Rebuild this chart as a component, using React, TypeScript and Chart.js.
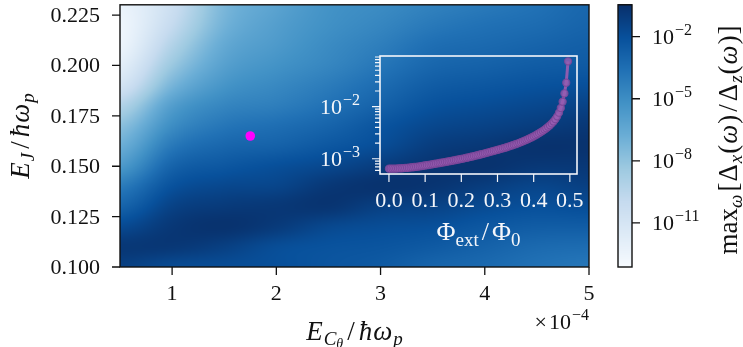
import { useEffect, useRef } from "react";
import { Chart, registerables } from "chart.js";

Chart.register(...registerables);

// ---- main map: charging energy (units of 1e-4 ħω_p) vs Josephson energy ----
const ecGrid = [0.5, 1.0, 1.5, 2.0, 2.5, 3.0, 3.5, 4.0, 4.5, 5.0];
const ejGrid = [0.1, 0.11, 0.12, 0.13, 0.14, 0.15, 0.16, 0.17, 0.18, 0.19, 0.2, 0.21, 0.22, 0.23];
// log10 of max_ω[Δx(ω)/Δz(ω)], one row per E_J value, one column per E_Cθ value
const ratioLog10 = [
  [-1.22, -1.73, -1.85, -1.98, -2.23, -2.49, -2.99, -3.25, -3.63, -3.88],
  [-0.84, -0.84, -1.22, -1.85, -2.11, -2.23, -2.49, -2.87, -3.25, -3.37],
  [-1.73, -0.84, -0.59, -0.97, -1.6, -1.85, -1.98, -2.36, -2.61, -2.61],
  [-2.99, -1.35, -0.97, -0.84, -0.71, -1.22, -1.35, -1.73, -1.98, -1.85],
  [-4.13, -2.11, -1.6, -1.47, -0.84, -0.59, -0.71, -1.09, -1.47, -1.22],
  [-5.66, -2.99, -2.36, -1.98, -1.6, -1.09, -0.71, -0.59, -0.84, -0.84],
  [-6.8, -4.01, -3.12, -2.87, -2.36, -1.85, -1.09, -0.84, -0.59, -0.59],
  [-7.81, -5.02, -3.88, -3.5, -2.99, -2.23, -1.6, -1.35, -1.09, -0.84],
  [-9.2, -5.91, -4.64, -4.26, -3.63, -2.87, -2.11, -1.85, -1.6, -1.35],
  [-10.85, -7.2, -5.4, -4.77, -4.13, -3.37, -2.61, -2.36, -2.11, -1.98],
  [-11.86, -8.3, -6.04, -5.27, -4.64, -3.88, -3.12, -2.87, -2.61, -2.49],
  [-12.5, -9.2, -6.54, -5.66, -4.89, -4.26, -3.5, -3.25, -2.99, -2.74],
  [-12.6, -9.96, -7.05, -5.91, -5.15, -4.64, -4.01, -3.63, -3.37, -2.99],
  [-12.37, -10.34, -7.3, -6.16, -5.27, -4.89, -4.39, -4.01, -3.63, -3.12],
];
const ecRange = [0.5, 5.0];
const ejRange = [0.1, 0.2301];
const ecTicks = [1, 2, 3, 4, 5];
const ejTicks = [0.1, 0.125, 0.15, 0.175, 0.2, 0.225];
const operatingPoint = { ec: 1.75, ej: 0.165 };

// colour bar (log10 limits and labelled decades)
const cbRangeExp = [-13.13, -0.46];
const cbTickExp = [-2, -5, -8, -11];

// ---- inset: ratio at the operating point vs external flux ----
const fluxValues = [
  0.0, 0.005, 0.01, 0.015, 0.02, 0.025, 0.03, 0.035, 0.04, 0.045,
  0.05, 0.055, 0.06, 0.065, 0.07, 0.075, 0.08, 0.085, 0.09, 0.095,
  0.1, 0.105, 0.11, 0.115, 0.12, 0.125, 0.13, 0.135, 0.14, 0.145,
  0.15, 0.155, 0.16, 0.165, 0.17, 0.175, 0.18, 0.185, 0.19, 0.195,
  0.2, 0.205, 0.21, 0.215, 0.22, 0.225, 0.23, 0.235, 0.24, 0.245,
  0.25, 0.255, 0.26, 0.265, 0.27, 0.275, 0.28, 0.285, 0.29, 0.295,
  0.3, 0.305, 0.31, 0.315, 0.32, 0.325, 0.33, 0.335, 0.34, 0.345,
  0.35, 0.355, 0.36, 0.365, 0.37, 0.375, 0.38, 0.385, 0.39, 0.395,
  0.4, 0.405, 0.41, 0.415, 0.42, 0.425, 0.43, 0.435, 0.44, 0.445,
  0.45, 0.455, 0.46, 0.465, 0.47, 0.475, 0.48, 0.485, 0.49, 0.495,
];
const fluxRatioLog10 = [
  -3.19, -3.19, -3.189, -3.189, -3.188, -3.186, -3.185, -3.183, -3.18, -3.177,
  -3.174, -3.171, -3.167, -3.163, -3.159, -3.155, -3.15, -3.145, -3.14, -3.135,
  -3.129, -3.124, -3.118, -3.112, -3.106, -3.1, -3.094, -3.088, -3.082, -3.076,
  -3.07, -3.064, -3.058, -3.051, -3.045, -3.038, -3.031, -3.024, -3.017, -3.01,
  -3.003, -2.996, -2.988, -2.981, -2.973, -2.965, -2.957, -2.949, -2.94, -2.932,
  -2.923, -2.914, -2.905, -2.896, -2.887, -2.877, -2.868, -2.859, -2.849, -2.84,
  -2.83, -2.82, -2.81, -2.8, -2.79, -2.779, -2.768, -2.757, -2.745, -2.733,
  -2.721, -2.708, -2.695, -2.681, -2.667, -2.652, -2.637, -2.621, -2.604, -2.587,
  -2.569, -2.55, -2.53, -2.509, -2.487, -2.464, -2.44, -2.414, -2.386, -2.356,
  -2.322, -2.284, -2.24, -2.186, -2.115, -2.025, -1.905, -1.745, -1.54, -1.13,
];
const fluxRange = [-0.02475, 0.51975];
const fluxRatioRangeExp = [-3.293, -1.027];
const fluxTicks = [0, 0.1, 0.2, 0.3, 0.4, 0.5];
const fluxMajorExp = [-3, -2];
const fluxMinor = [6e-4, 7e-4, 8e-4, 9e-4, 2e-3, 3e-3, 4e-3, 5e-3, 6e-3, 7e-3, 8e-3, 9e-3, 2e-2, 3e-2, 4e-2, 5e-2, 6e-2, 7e-2, 8e-2, 9e-2];

// ---- drawing helpers ----
const FAMILY = '"Liberation Serif", "DejaVu Serif", serif';
type Run = { t: string; s: number; i?: boolean; dy?: number; gap?: number };

function fontOf(r: Run) {
  return `${r.i ? "italic " : ""}${r.s}px ${FAMILY}`;
}
function runsWidth(ctx: CanvasRenderingContext2D, runs: Run[]) {
  let w = 0;
  for (const r of runs) {
    ctx.font = fontOf(r);
    w += ctx.measureText(r.t).width + (r.gap || 0);
  }
  return w;
}
function drawRuns(
  ctx: CanvasRenderingContext2D,
  runs: Run[],
  x: number,
  y: number,
  align: "left" | "center" | "right",
  color: string
) {
  const w = runsWidth(ctx, runs);
  let cx = align === "center" ? x - w / 2 : align === "right" ? x - w : x;
  ctx.fillStyle = color;
  ctx.textAlign = "left";
  ctx.textBaseline = "alphabetic";
  for (const r of runs) {
    ctx.font = fontOf(r);
    ctx.fillText(r.t, cx, y + (r.dy || 0));
    cx += ctx.measureText(r.t).width + (r.gap || 0);
  }
}
function drawRunsRotated(
  ctx: CanvasRenderingContext2D,
  runs: Run[],
  baselineX: number,
  centerY: number,
  color: string
) {
  ctx.save();
  ctx.translate(baselineX, centerY);
  ctx.rotate(-Math.PI / 2);
  drawRuns(ctx, runs, 0, 0, "center", color);
  ctx.restore();
}
function powerRuns(exp: number, size: number): Run[] {
  return [
    { t: "10", s: size, gap: 1 },
    { t: "\u2212" + Math.abs(exp), s: Math.round(size * 0.72), dy: -size * 0.42 },
  ];
}

// matplotlib "Blues"
const BLUES = [
  [247, 251, 255], [222, 235, 247], [198, 219, 239], [158, 202, 225], [107, 174, 214],
  [66, 146, 198], [33, 113, 181], [8, 81, 156], [8, 48, 107],
];
function blues(t: number) {
  const c = Math.min(1, Math.max(0, t)) * (BLUES.length - 1);
  const i = Math.min(BLUES.length - 2, Math.floor(c));
  const f = c - i;
  const a = BLUES[i], b = BLUES[i + 1];
  return [a[0] + (b[0] - a[0]) * f, a[1] + (b[1] - a[1]) * f, a[2] + (b[2] - a[2]) * f];
}

function locate(grid: number[], v: number) {
  const n = grid.length - 1;
  if (v <= grid[0]) return [0, 0];
  if (v >= grid[n]) return [n - 1, 1];
  let i = 0;
  while (grid[i + 1] < v) i++;
  return [i, (v - grid[i]) / (grid[i + 1] - grid[i])];
}
function cubic(p0: number, p1: number, p2: number, p3: number, t: number) {
  return p1 + 0.5 * t * (p2 - p0 + t * (2 * p0 - 5 * p1 + 4 * p2 - p3 + t * (3 * (p1 - p2) + p3 - p0)));
}
// smooth (Catmull-Rom) shading between the grid nodes
function sampleRatio(ec: number, ej: number) {
  const [ix, fx] = locate(ecGrid, ec);
  const [iy, fy] = locate(ejGrid, ej);
  const nx = ecGrid.length - 1, ny = ejGrid.length - 1;
  const cx = (k: number) => Math.min(nx, Math.max(0, k));
  const cy = (k: number) => Math.min(ny, Math.max(0, k));
  const rows: number[] = [];
  for (let j = -1; j <= 2; j++) {
    const r = ratioLog10[cy(iy + j)];
    rows.push(cubic(r[cx(ix - 1)], r[cx(ix)], r[cx(ix + 1)], r[cx(ix + 2)], fx));
  }
  return cubic(rows[0], rows[1], rows[2], rows[3], fy);
}

const TICK = 8;
const INK = "#111";
const TICK_FONT = 22;

const heatmapPlugin = {
  id: "heatmap",
  beforeDatasetsDraw(chart: any) {
    const { ctx, chartArea: a, scales } = chart;
    const xs = scales.x, ys = scales.y, cb = scales.cb;
    const w = Math.round(a.right - a.left), h = Math.round(a.bottom - a.top);
    const off = document.createElement("canvas");
    off.width = w;
    off.height = h;
    const octx = off.getContext("2d")!;
    const img = octx.createImageData(w, h);
    const span = cb.bottom - cb.top;
    for (let py = 0; py < h; py++) {
      const ej = ys.getValueForPixel(a.top + py + 0.5);
      for (let px = 0; px < w; px++) {
        const ec = xs.getValueForPixel(a.left + px + 0.5);
        const v = sampleRatio(ec, ej);
        const t = (cb.bottom - cb.getPixelForValue(Math.pow(10, v))) / span;
        const c = blues(t);
        const k = (py * w + px) * 4;
        img.data[k] = c[0];
        img.data[k + 1] = c[1];
        img.data[k + 2] = c[2];
        img.data[k + 3] = 255;
      }
    }
    octx.putImageData(img, 0, 0);
    ctx.drawImage(off, a.left, a.top);
  },
};

const CB_LEFT = 618, CB_RIGHT = 632;

const mainAxesPlugin = {
  id: "mainAxes",
  afterDraw(chart: any) {
    const { ctx, chartArea: a, scales } = chart;
    const xs = scales.x, ys = scales.y, cb = scales.cb;
    ctx.save();

    // colour bar
    const span = cb.bottom - cb.top;
    for (let py = Math.floor(cb.top); py < Math.ceil(cb.bottom); py++) {
      const c = blues((cb.bottom - (py + 0.5)) / span);
      ctx.fillStyle = `rgb(${c[0] | 0},${c[1] | 0},${c[2] | 0})`;
      ctx.fillRect(CB_LEFT, py, CB_RIGHT - CB_LEFT, 1);
    }

    ctx.strokeStyle = INK;
    ctx.lineWidth = 1.4;
    ctx.strokeRect(a.left, a.top, a.right - a.left, a.bottom - a.top);
    ctx.strokeRect(CB_LEFT, cb.top, CB_RIGHT - CB_LEFT, cb.bottom - cb.top);

    ctx.lineWidth = 1.3;
    ctx.beginPath();
    for (const v of ecTicks) {
      const px = xs.getPixelForValue(v);
      ctx.moveTo(px, a.bottom);
      ctx.lineTo(px, a.bottom + TICK);
    }
    for (const v of ejTicks) {
      const py = ys.getPixelForValue(v);
      ctx.moveTo(a.left - TICK, py);
      ctx.lineTo(a.left, py);
    }
    for (const e of cbTickExp) {
      const py = cb.getPixelForValue(Math.pow(10, e));
      ctx.moveTo(CB_RIGHT, py);
      ctx.lineTo(CB_RIGHT + TICK, py);
    }
    ctx.stroke();

    for (const v of ecTicks) {
      drawRuns(ctx, [{ t: String(v), s: TICK_FONT }], xs.getPixelForValue(v), a.bottom + 33, "center", INK);
    }
    for (const v of ejTicks) {
      drawRuns(ctx, [{ t: v.toFixed(3), s: TICK_FONT }], a.left - 20, ys.getPixelForValue(v) + 7, "right", INK);
    }
    for (const e of cbTickExp) {
      drawRuns(ctx, powerRuns(e, TICK_FONT), CB_RIGHT + 20, cb.getPixelForValue(Math.pow(10, e)) + 7.5, "left", INK);
    }

    // axis titles
    const L = 27, S = 19, SS = 14;
    drawRuns(
      ctx,
      [
        { t: "E", s: L, i: true, gap: 1 },
        { t: "C", s: S, i: true, dy: 5 },
        { t: "\u03b8", s: SS, i: true, dy: 8, gap: 4 },
        { t: "/", s: L, gap: 4 },
        { t: "\u0127", s: L, i: true, gap: 1 },
        { t: "\u03c9", s: L, i: true, gap: 1 },
        { t: "p", s: S, i: true, dy: 5 },
      ],
      (a.left + a.right) / 2,
      340,
      "center",
      INK
    );
    drawRuns(ctx, [{ t: "\u00d7", s: 22, gap: 2 }, { t: "10", s: 22, gap: 1 }, { t: "\u22124", s: 16, dy: -9 }], a.right, 329, "right", INK);

    drawRunsRotated(
      ctx,
      [
        { t: "E", s: L, i: true, gap: 1 },
        { t: "J", s: S, i: true, dy: 5, gap: 4 },
        { t: "/", s: L, gap: 4 },
        { t: "\u0127", s: L, i: true, gap: 1 },
        { t: "\u03c9", s: L, i: true, gap: 1 },
        { t: "p", s: S, i: true, dy: 5 },
      ],
      29,
      (a.top + a.bottom) / 2,
      INK
    );

    const C = 27, CS = 19;
    drawRunsRotated(
      ctx,
      [
        { t: "max", s: C },
        { t: "\u03c9", s: CS, i: true, dy: 5, gap: 3 },
        { t: "[", s: C, gap: 1 },
        { t: "\u0394", s: C, gap: 1 },
        { t: "x", s: CS, i: true, dy: 5, gap: 1 },
        { t: "(", s: C, gap: 1 },
        { t: "\u03c9", s: C, i: true, gap: 1 },
        { t: ")", s: C, gap: 3 },
        { t: "/", s: C, gap: 3 },
        { t: "\u0394", s: C, gap: 1 },
        { t: "z", s: CS, i: true, dy: 5, gap: 1 },
        { t: "(", s: C, gap: 1 },
        { t: "\u03c9", s: C, i: true, gap: 1 },
        { t: ")", s: C, gap: 1 },
        { t: "]", s: C },
      ],
      737,
      (cb.top + cb.bottom) / 2 + 4,
      INK
    );
    ctx.restore();
  },
};

const WHITE = "#f4f6fa";

const insetAxesPlugin = {
  id: "insetAxes",
  afterDraw(chart: any) {
    const { ctx, chartArea: a, scales } = chart;
    const xs = scales.x, ys = scales.y;
    ctx.save();
    ctx.strokeStyle = WHITE;
    ctx.lineWidth = 1.6;
    ctx.strokeRect(a.left, a.top, a.right - a.left, a.bottom - a.top);
    ctx.lineWidth = 1.2;
    ctx.beginPath();
    for (const v of fluxTicks) {
      const px = xs.getPixelForValue(v);
      ctx.moveTo(px, a.bottom);
      ctx.lineTo(px, a.bottom + TICK);
    }
    for (const e of fluxMajorExp) {
      const py = ys.getPixelForValue(Math.pow(10, e));
      ctx.moveTo(a.left - TICK, py);
      ctx.lineTo(a.left, py);
    }
    for (const v of fluxMinor) {
      const py = ys.getPixelForValue(v);
      ctx.moveTo(a.left - 5, py);
      ctx.lineTo(a.left, py);
    }
    ctx.stroke();

    for (const v of fluxTicks) {
      drawRuns(ctx, [{ t: v.toFixed(1), s: TICK_FONT }], xs.getPixelForValue(v), a.bottom + 33, "center", WHITE);
    }
    for (const e of fluxMajorExp) {
      drawRuns(ctx, powerRuns(e, TICK_FONT), a.left - 20, ys.getPixelForValue(Math.pow(10, e)) + 7.5, "right", WHITE);
    }
    drawRuns(
      ctx,
      [
        { t: "\u03a6", s: 26 },
        { t: "ext", s: 19, dy: 6, gap: 3 },
        { t: "/", s: 26, gap: 3 },
        { t: "\u03a6", s: 26 },
        { t: "0", s: 19, dy: 6 },
      ],
      (a.left + a.right) / 2,
      a.bottom + 66,
      "center",
      WHITE
    );
    ctx.restore();
  },
};

export default function App() {
  const mainRef = useRef<HTMLCanvasElement>(null);
  const insetRef = useRef<HTMLCanvasElement>(null);

  useEffect(() => {
    const main = new Chart(mainRef.current!, {
      type: "scatter",
      data: {
        datasets: [
          {
            data: [{ x: operatingPoint.ec, y: operatingPoint.ej }],
            backgroundColor: "#ff00ff",
            borderWidth: 0,
            pointRadius: 4.8,
          },
        ],
      },
      options: {
        responsive: false,
        animation: false,
        layout: { padding: { left: 120, top: 3, right: 154, bottom: 80 } },
        plugins: { legend: { display: false }, tooltip: { enabled: false } },
        scales: {
          x: { type: "linear", display: false, min: ecRange[0], max: ecRange[1] },
          y: { type: "linear", display: false, min: ejRange[0], max: ejRange[1] },
          cb: {
            type: "logarithmic",
            axis: "y",
            display: false,
            min: Math.pow(10, cbRangeExp[0]),
            max: Math.pow(10, cbRangeExp[1]),
          },
        },
      } as any,
      plugins: [heatmapPlugin, mainAxesPlugin],
    });

    const inset = new Chart(insetRef.current!, {
      type: "scatter",
      data: {
        datasets: [
          {
            data: fluxValues.map((x, i) => ({ x, y: Math.pow(10, fluxRatioLog10[i]) })),
            showLine: true,
            borderColor: "rgba(150, 92, 176, 0.95)",
            borderWidth: 3,
            pointRadius: 3.6,
            pointBackgroundColor: "rgba(152, 94, 178, 0.8)",
            pointBorderColor: "rgba(122, 70, 152, 0.9)",
            pointBorderWidth: 1.1,
          },
        ],
      },
      options: {
        responsive: false,
        animation: false,
        layout: { padding: { left: 90, top: 11, right: 13, bottom: 86 } },
        plugins: { legend: { display: false }, tooltip: { enabled: false } },
        scales: {
          x: { type: "linear", display: false, min: fluxRange[0], max: fluxRange[1] },
          y: {
            type: "logarithmic",
            display: false,
            min: Math.pow(10, fluxRatioRangeExp[0]),
            max: Math.pow(10, fluxRatioRangeExp[1]),
          },
        },
      } as any,
      plugins: [insetAxesPlugin],
    });

    return () => {
      main.destroy();
      inset.destroy();
    };
  }, []);

  return (
    <div style={{ position: "fixed", left: 0, top: 0, width: 743, height: 347, background: "#fff" }}>
      <canvas ref={mainRef} width={743} height={347} style={{ position: "absolute", left: 0, top: 0 }} />
      <canvas ref={insetRef} width={300} height={215} style={{ position: "absolute", left: 290, top: 45 }} />
    </div>
  );
}
